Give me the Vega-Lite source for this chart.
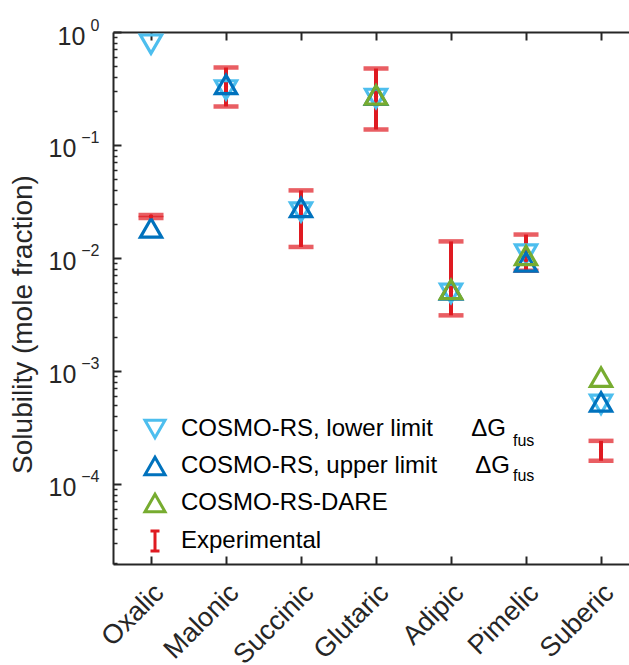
{
  "$schema": "https://vega.github.io/schema/vega-lite/v6.json",
  "width": 516,
  "height": 532,
  "autosize": {"type": "none"},
  "padding": {"left": 113, "top": 32, "right": 0, "bottom": 101},
  "config": {
    "view": {"stroke": null},
    "font": "Liberation Sans",
    "axis": {
      "domainColor": "#262626", "tickColor": "#262626", "labelColor": "#262626", "titleColor": "#262626",
      "domainWidth": 2, "tickWidth": 2, "grid": false,
      "labelFont": "Liberation Sans", "titleFont": "Liberation Sans", "titleFontWeight": "normal",
      "labelBound": false, "labelOverlap": false, "labelFlush": false
    }
  },
  "data": {
    "values": [
      {"acid": "Oxalic", "series": "COSMO-RS, lower limit", "value": 0.78},
      {"acid": "Malonic", "series": "COSMO-RS, lower limit", "value": 0.307},
      {"acid": "Succinic", "series": "COSMO-RS, lower limit", "value": 0.0255},
      {"acid": "Glutaric", "series": "COSMO-RS, lower limit", "value": 0.258},
      {"acid": "Adipic", "series": "COSMO-RS, lower limit", "value": 0.00485},
      {"acid": "Pimelic", "series": "COSMO-RS, lower limit", "value": 0.0108},
      {"acid": "Suberic", "series": "COSMO-RS, lower limit", "value": 0.000505},
      {"acid": "Oxalic", "series": "COSMO-RS, upper limit", "value": 0.0184},
      {"acid": "Malonic", "series": "COSMO-RS, upper limit", "value": 0.343},
      {"acid": "Succinic", "series": "COSMO-RS, upper limit", "value": 0.028},
      {"acid": "Glutaric", "series": "COSMO-RS, upper limit", "value": 0.275},
      {"acid": "Adipic", "series": "COSMO-RS, upper limit", "value": 0.0052},
      {"acid": "Pimelic", "series": "COSMO-RS, upper limit", "value": 0.0092},
      {"acid": "Suberic", "series": "COSMO-RS, upper limit", "value": 0.00053},
      {"acid": "Glutaric", "series": "COSMO-RS-DARE", "value": 0.277},
      {"acid": "Adipic", "series": "COSMO-RS-DARE", "value": 0.00526},
      {"acid": "Pimelic", "series": "COSMO-RS-DARE", "value": 0.0105},
      {"acid": "Suberic", "series": "COSMO-RS-DARE", "value": 0.00088},
      {"acid": "Oxalic", "series": "Experimental", "value": 0.0233, "low": 0.0226, "high": 0.024},
      {"acid": "Malonic", "series": "Experimental", "value": 0.328, "low": 0.219, "high": 0.485},
      {"acid": "Succinic", "series": "Experimental", "value": 0.0271, "low": 0.0125, "high": 0.0396},
      {"acid": "Glutaric", "series": "Experimental", "value": 0.268, "low": 0.137, "high": 0.475},
      {"acid": "Adipic", "series": "Experimental", "value": 0.00504, "low": 0.0031, "high": 0.014},
      {"acid": "Pimelic", "series": "Experimental", "value": 0.0095, "low": 0.0077, "high": 0.0161},
      {"acid": "Suberic", "series": "Experimental", "value": 0.0002, "low": 0.00016, "high": 0.00024}
    ]
  },
  "layer": [
    {
      "transform": [{"filter": "datum.series == 'Experimental'"}],
      "mark": {"type": "rule", "color": "#DF1A21", "strokeWidth": 4},
      "encoding": {
        "x": {
          "field": "acid", "type": "nominal",
          "sort": ["Oxalic", "Malonic", "Succinic", "Glutaric", "Adipic", "Pimelic", "Suberic"],
          "scale": {"type": "point", "padding": 0.44, "align": 0.576},
          "axis": {"orient": "bottom", "title": null, "labelAngle": -45, "labelFontSize": 27, "tickSize": -8, "labelPadding": 23, "labelOffset": -1, "labelAlign": "right", "labelBaseline": "top"}
        },
        "y": {
          "field": "low", "type": "quantitative",
          "scale": {"type": "log", "domain": [1.95e-5, 1]},
          "axis": {
            "orient": "left", "values": [0.0001, 0.001, 0.01, 0.1, 1],
            "labelExpr": "'10'", "labelAlign": "left",
            "labelFontSize": 25, "ticks": false,
            "labelPadding": {"condition": {"test": "datum.value == 1", "value": 56}, "value": 65},
            "labelOffset": 4,
            "title": "Solubility (mole fraction)", "titleFontSize": 28,
            "titleX": -90, "titleY": 292, "titleAngle": 270, "titleAlign": "center", "titleBaseline": "middle"
          }
        },
        "y2": {"field": "high"}
      }
    },
    {
      "transform": [{"filter": "datum.series == 'Experimental'"}],
      "mark": {"type": "tick", "color": "#DF1A21", "thickness": 4.5, "size": 25, "orient": "horizontal"},
      "encoding": {
        "x": {
          "field": "acid", "type": "nominal",
          "sort": ["Oxalic", "Malonic", "Succinic", "Glutaric", "Adipic", "Pimelic", "Suberic"],
          "scale": {"type": "point", "padding": 0.44, "align": 0.576},
          "axis": {"orient": "top", "title": null, "labels": false, "tickSize": -8}
        },
        "y": {
          "field": "low", "type": "quantitative",
          "scale": {"type": "log", "domain": [1.95e-5, 1]},
          "axis": {
            "orient": "left", "values": [0.0001, 0.001, 0.01, 0.1, 1],
            "labelExpr": "datum.value == 1 ? '0' : '\u2212' + round(-log(datum.value) / LN10)",
            "labelFontSize": 16, "ticks": false, "domain": false, "labelPadding": 14, "labelOffset": -7, "title": null
          }
        }
      }
    },
    {
      "transform": [{"filter": "datum.series == 'Experimental'"}],
      "mark": {"type": "tick", "color": "#DF1A21", "thickness": 4.5, "size": 25, "orient": "horizontal"},
      "encoding": {
        "x": {
          "field": "acid", "type": "nominal",
          "sort": ["Oxalic", "Malonic", "Succinic", "Glutaric", "Adipic", "Pimelic", "Suberic"],
          "scale": {"type": "point", "padding": 0.44, "align": 0.576},
          "axis": null
        },
        "y": {
          "field": "high", "type": "quantitative",
          "scale": {"type": "log", "domain": [1.95e-5, 1]},
          "axis": {
            "orient": "left",
            "values": [0.00002, 0.00003, 0.00004, 0.00005, 0.00006, 0.00007, 0.00008, 0.00009, 0.0002, 0.0003, 0.0004, 0.0005, 0.0006, 0.0007, 0.0008, 0.0009, 0.002, 0.003, 0.004, 0.005, 0.006, 0.007, 0.008, 0.009, 0.02, 0.03, 0.04, 0.05, 0.06, 0.07, 0.08, 0.09, 0.2, 0.3, 0.4, 0.5, 0.6, 0.7, 0.8, 0.9],
            "labels": false, "domain": false, "tickSize": -4, "tickWidth": 1.5, "title": null
          }
        }
      }
    },
    {
      "transform": [{"filter": "datum.series != 'Experimental'"}],
      "mark": {"type": "point", "filled": false, "strokeWidth": 3.2, "size": 450, "opacity": 1},
      "encoding": {
        "x": {
          "field": "acid", "type": "nominal",
          "sort": ["Oxalic", "Malonic", "Succinic", "Glutaric", "Adipic", "Pimelic", "Suberic"],
          "scale": {"type": "point", "padding": 0.44, "align": 0.576},
          "axis": null
        },
        "y": {
          "field": "value", "type": "quantitative",
          "scale": {"type": "log", "domain": [1.95e-5, 1]},
          "axis": {
            "orient": "left", "values": [0.0001, 0.001, 0.01, 0.1, 1],
            "labels": false, "domain": false, "tickSize": -8, "tickWidth": 2, "title": null
          }
        },
        "color": {
          "field": "series", "type": "nominal",
          "scale": {
            "domain": ["COSMO-RS, lower limit", "COSMO-RS, upper limit", "COSMO-RS-DARE", "Experimental"],
            "range": ["#4DBEEE", "#0072BD", "#77AC30", "#DF1A21"]
          },
          "legend": {
            "title": null, "orient": "none", "legendX": 30, "legendY": 385, "padding": 0,
            "labelFontSize": 24, "labelFont": "Liberation Sans", "labelColor": "#000000", "labelLimit": 600,
            "symbolSize": 400, "symbolStrokeWidth": 3, "rowPadding": 7, "labelOffset": 14,
            "labelExpr": "datum.label == 'COSMO-RS, lower limit' || datum.label == 'COSMO-RS, upper limit' ? datum.label + '\u00a0\u00a0\u00a0\u00a0\u00a0\u2009ΔG' : datum.label"
          }
        },
        "shape": {
          "field": "series", "type": "nominal",
          "scale": {
            "domain": ["COSMO-RS, lower limit", "COSMO-RS, upper limit", "COSMO-RS-DARE", "Experimental"],
            "range": ["triangle-down", "triangle-up", "triangle-up", "M0,-1L0,1M-0.45,-1L0.45,-1M-0.45,1L0.45,1"]
          },
          "legend": {
            "title": null, "orient": "none", "legendX": 30, "legendY": 385, "padding": 0,
            "labelFontSize": 24, "labelFont": "Liberation Sans", "labelColor": "#000000", "labelLimit": 600,
            "symbolSize": 400, "symbolStrokeWidth": 3, "rowPadding": 7, "labelOffset": 14,
            "labelExpr": "datum.label == 'COSMO-RS, lower limit' || datum.label == 'COSMO-RS, upper limit' ? datum.label + '\u00a0\u00a0\u00a0\u00a0\u00a0\u2009ΔG' : datum.label"
          }
        }
      }
    },
    {
      "transform": [{"filter": "datum.series == 'Experimental'"}],
      "mark": {"type": "point", "filled": true, "size": 18, "color": "#DF1A21", "opacity": 1},
      "encoding": {
        "x": {
          "field": "acid", "type": "nominal",
          "sort": ["Oxalic", "Malonic", "Succinic", "Glutaric", "Adipic", "Pimelic", "Suberic"],
          "scale": {"type": "point", "padding": 0.44, "align": 0.576},
          "axis": null
        },
        "y": {
          "field": "value", "type": "quantitative",
          "scale": {"type": "log", "domain": [1.95e-5, 1]},
          "axis": null
        }
      }
    },
    {
      "mark": {"type": "point", "filled": true, "size": 0, "color": "transparent"},
      "encoding": {
        "x": {
          "field": "acid", "type": "nominal",
          "sort": ["Oxalic", "Malonic", "Succinic", "Glutaric", "Adipic", "Pimelic", "Suberic"],
          "scale": {"type": "point", "padding": 0.44, "align": 0.576},
          "axis": null
        },
        "y": {
          "field": "value", "type": "quantitative",
          "scale": {"type": "log", "domain": [1.95e-5, 1]},
          "axis": null
        },
        "opacity": {
          "field": "series", "type": "nominal",
          "scale": {
            "domain": ["COSMO-RS, lower limit", "COSMO-RS, upper limit", "COSMO-RS-DARE", "Experimental", "zz"],
            "range": [1, 1, 1, 1, 1]
          },
          "legend": {
            "title": null, "orient": "none", "legendX": 374, "legendY": 398, "padding": 0,
            "labelFontSize": 16, "labelFont": "Liberation Sans", "labelColor": "#000000", "labelLimit": 200,
            "symbolSize": 400, "symbolFillColor": "transparent", "symbolStrokeColor": "transparent", "rowPadding": 9, "labelOffset": 4,
            "labelExpr": "datum.label == 'COSMO-RS, lower limit' ? 'fus' : datum.label == 'COSMO-RS, upper limit' ? '\u00a0fus' : ''"
          }
        }
      }
    }
  ],
  "resolve": {"axis": {"x": "independent", "y": "independent"}}
}
